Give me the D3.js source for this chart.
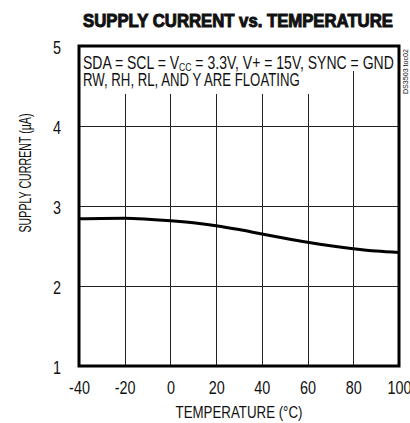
<!DOCTYPE html>
<html>
<head>
<meta charset="utf-8">
<script src="https://cdn.jsdelivr.net/npm/d3@7"></script>
<style>
html,body{margin:0;padding:0;background:#fff;}
svg{display:block;}
text{font-family:"Liberation Sans",Arial,sans-serif;fill:#111;}
</style>
</head>
<body>
<svg id="chart" width="410" height="423"></svg>
<script>
const temperatures = [-40,-30,-20,-10,0,10,20,30,40,50,60,70,80,90,100];
const supplyCurrent = [2.84,2.845,2.846,2.835,2.816,2.79,2.754,2.706,2.65,2.596,2.546,2.502,2.466,2.437,2.42];
const xTicks = [-40,-20,0,20,40,60,80,100];
const yTicks = [1,2,3,4,5];
const title = "SUPPLY CURRENT vs. TEMPERATURE";
const xLabel = "TEMPERATURE (°C)";
const yLabel = "SUPPLY CURRENT (µA)";
const noteLine2 = "RW, RH, RL, AND Y ARE FLOATING";
const sideTag = "DS3503 toc02";

const svg = d3.select("#chart");
const L = 79, R = 399, T = 46, B = 366;
const x = d3.scaleLinear().domain([-40,100]).range([L,R]);
const y = d3.scaleLinear().domain([1,5]).range([B,T]);

// squeeze a text horizontally to a target width (condensed face look)
function fit(sel, x0, y0, target, rot) {
  const w = sel.node().getComputedTextLength();
  const k = target / w;
  sel.attr("x",0).attr("y",0)
     .attr("transform",`translate(${x0},${y0})${rot?` rotate(${rot})`:""} scale(${k},1)`);
  return sel;
}

// grid
const g = svg.append("g");
g.selectAll("line.v").data(xTicks.slice(1,-1)).join("line")
  .attr("x1",d=>Math.round(x(d))+0.5).attr("x2",d=>Math.round(x(d))+0.5).attr("y1",T).attr("y2",B)
  .attr("stroke","#222").attr("stroke-width",1);
g.selectAll("line.h").data(yTicks.slice(1,-1)).join("line")
  .attr("y1",d=>y(d)+0.5).attr("y2",d=>y(d)+0.5).attr("x1",L).attr("x2",R)
  .attr("stroke","#222").attr("stroke-width",1);

// annotation background boxes
svg.append("rect").attr("x",L).attr("y",T).attr("width",R-L).attr("height",25).attr("fill","#fff");
svg.append("rect").attr("x",L).attr("y",T+25).attr("width",x(70)-L).attr("height",23).attr("fill","#fff");

// annotation text
const n1 = svg.append("text").attr("font-size",18);
n1.append("tspan").text("SDA = SCL = V");
n1.append("tspan").attr("font-size",11).attr("dy",2).text("CC");
n1.append("tspan").attr("dy",-2).text(" = 3.3V, V+ = 15V, SYNC = GND");
fit(n1, 83, 69, 311);
fit(svg.append("text").attr("font-size",18).text(noteLine2), 83, 85.5, 217);

// curve
const line = d3.line().x((d,i)=>x(temperatures[i])).y(d=>y(d)).curve(d3.curveMonotoneX);
svg.append("path").datum(supplyCurrent).attr("d",line)
  .attr("fill","none").attr("stroke","#000").attr("stroke-width",3);

// frame
svg.append("rect").attr("x",L).attr("y",T).attr("width",R-L).attr("height",B-T)
  .attr("fill","none").attr("stroke","#000").attr("stroke-width",3);

// axes tick labels
const tk = 0.8;
svg.append("g").attr("transform",`translate(0,${B})`)
  .call(d3.axisBottom(x).tickValues(xTicks).tickSize(0).tickPadding(0).tickFormat(d=>String(d)))
  .call(a=>a.select(".domain").remove())
  .call(a=>a.selectAll("text").attr("font-size",18).attr("dy",null).attr("y",0)
        .attr("transform",`translate(0,28) scale(${tk},1)`)
        .attr("font-family",null).attr("fill","#111"));
svg.append("g").attr("transform",`translate(${L},0)`)
  .call(d3.axisLeft(y).tickValues(yTicks).tickSize(0).tickPadding(0).tickFormat(d=>String(d)))
  .call(a=>a.select(".domain").remove())
  .call(a=>a.selectAll("text").attr("font-size",18).attr("dy",null).attr("x",0).attr("y",0)
        .attr("transform",`translate(-18,7) scale(${tk},1)`)
        .attr("font-family",null).attr("fill","#111"));

// titles
fit(svg.append("text").attr("text-anchor","middle")
  .attr("font-size",18).attr("font-weight","bold").attr("stroke","#111").attr("stroke-width",1)
  .text(title), 238, 27, 310);
fit(svg.append("text").attr("text-anchor","middle").attr("font-size",16).text(xLabel), 239, 418, 127);
fit(svg.append("text").attr("text-anchor","middle").attr("font-size",16).text(yLabel), 31, 173, 119, -90);
fit(svg.append("text").attr("font-size",7).text(sideTag), 408, 94, 45, -90);
</script>
</body>
</html>
